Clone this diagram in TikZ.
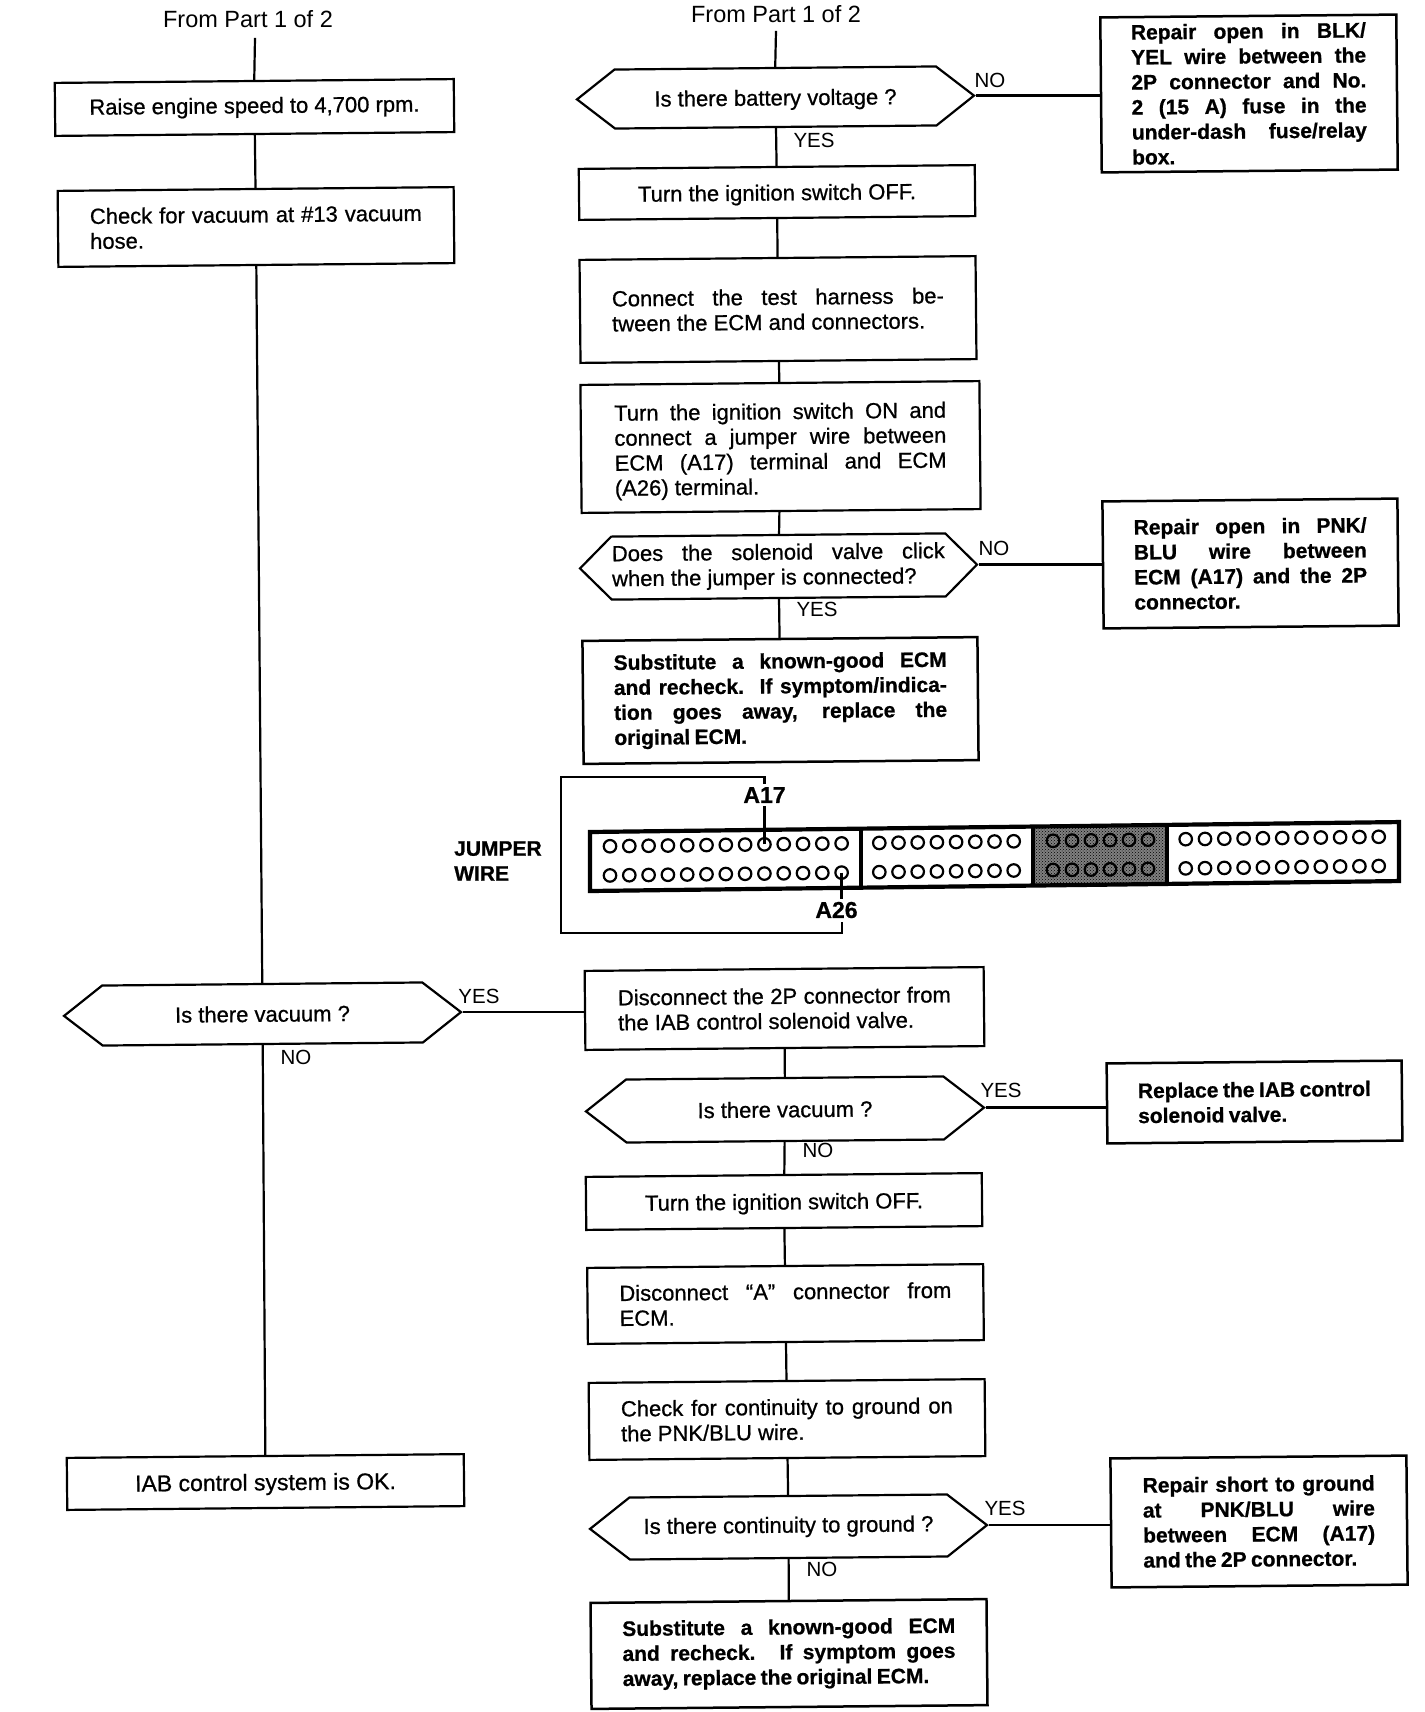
\documentclass[tikz,border=0pt]{standalone}
\usepackage{fontspec}
\setmainfont[FakeBold=0.8, BoldFeatures={WordSpace=0.75}]{Liberation Sans}
\newfontfamily\plainfont{Liberation Sans}
\usetikzlibrary{shapes.geometric, shapes.symbols, patterns}
\tolerance=9999
\hbadness=10000
\hfuzz=6pt
\tikzset{
  bodyfont/.style = {font=\fontsize{22}{25}\selectfont},
  boldfont/.style = {font=\fontsize{21}{25}\selectfont\bfseries},
  stepbox/.style  = {draw, bodyfont, rotate=0.55, line width=2.2pt, inner xsep=0pt, inner ysep=0pt, align=justify},
  cutbox/.style   = {stepbox, boldfont, line width=2.5pt},
  midbox/.style   = {stepbox, align=center},
  decide/.style   = {draw, bodyfont, rotate=0.55, line width=2.2pt, signal, signal to=west and east,
                     signal pointer angle=76, inner sep=0pt, align=center},
  flow/.style     = {line width=2.2pt},
  tag/.style      = {font=\fontsize{20.5}{25}\plainfont, inner sep=0pt},
  fromtag/.style  = {font=\fontsize{23.5}{25}\plainfont, inner sep=0pt},
  pinlab/.style   = {font=\fontsize{23}{25}\selectfont\bfseries, inner sep=3pt},
  hole/.style     = {draw, circle, line width=2.2pt, minimum size=12.5pt, inner sep=0pt},
  wire/.style     = {line width=2.5pt},
  shell/.style    = {line width=4.2pt},
}

\begin{document}
\begin{tikzpicture}[x=1pt, y=-1pt]
  \useasboundingbox (0,0) rectangle (1424,1712);

  % left column
  \node[fromtag]  (fromL) at (248,19) {From Part 1 of 2};
  \node[midbox, minimum width=399pt, minimum height=53pt]  (raise) at (254.5,107.5) {Raise engine speed to 4,700 rpm.};
  \node[stepbox, minimum height=76pt, text width=332pt, inner xsep=32pt] (chk) at (256,227)
      {Check for vacuum at \#13 vacuum\linebreak hose.};
  \node[decide, minimum width=397pt, minimum height=60pt]  (vacL) at (262.5,1014) {Is there vacuum ?};
  \node[midbox, minimum width=397pt, minimum height=52pt, text depth=0pt, font=\fontsize{23}{25}\selectfont]  (okay) at (265.5,1482) {IAB control system is OK.};
  \node[tag] (yesL) at (479,996) {YES};
  \node[tag] (noL)  at (296,1057) {NO};
  \draw[flow] (fromL.south) ++(7,10) -- (raise.north);
  \draw[flow] (raise) -- (chk);
  \draw[flow] (chk) -- (vacL);
  \draw[flow] (vacL) -- (okay);

  % right column, upper part
  \node[fromtag]  (fromR) at (776,14) {From Part 1 of 2};
  \node[decide, minimum width=397pt, minimum height=59pt, text depth=0pt]  (batt) at (775.5,97.5) {Is there battery voltage ?};
  \node[midbox, minimum width=396pt, minimum height=51pt, text depth=0pt]  (off1) at (777,192.5) {Turn the ignition switch OFF.};
  \node[stepbox, minimum height=103pt, text width=332pt, inner xsep=32pt]  (harn) at (778,309.5)
      {Connect the test harness be-\linebreak tween the ECM and connectors.};
  \node[stepbox, minimum height=128pt, text width=332pt, inner xsep=33.5pt]  (jump) at (780.5,447)
      {\rule{0pt}{24pt}Turn the ignition switch ON and\linebreak connect a jumper wire between\linebreak
       ECM (A17) terminal and ECM\linebreak (A26) terminal.};
  \node[decide, minimum width=397pt, minimum height=63pt, align=justify, text width=333pt, signal pointer angle=90]  (click) at (778.5,566.5)
      {Does the solenoid valve click\linebreak when the jumper is connected?};
  \node[cutbox, minimum height=123pt, text width=333pt, inner xsep=31pt]  (sub1) at (780.5,700.5)
      {Substitute a known-good ECM\linebreak and recheck. If symptom/indica-\linebreak
       tion goes away, replace the\linebreak original ECM.};
  \node[cutbox, minimum height=155pt, text width=235pt, inner xsep=30.5pt]  (fuse) at (1249,93.5)
      {Repair open in BLK/\linebreak YEL wire between the\linebreak 2P connector and No.\linebreak
       2 (15 A) fuse in the\linebreak under-dash fuse/relay\linebreak box.};
  \node[cutbox, minimum height=127pt, text width=233pt, inner xsep=31pt]  (pnk) at (1250.5,563.5)
      {Repair open in PNK/\linebreak BLU wire between\linebreak ECM (A17) and the 2P\linebreak connector.};
  \node[tag] (noA)  at (990,80) {NO};
  \node[tag] (yesA) at (814,140) {YES};
  \node[tag] (noB)  at (994,548) {NO};
  \node[tag] (yesB) at (817,609) {YES};
  \draw[flow] (fromR.south) ++(0,8) -- (batt.north);
  \draw[flow] (batt) -- (off1);
  \draw[flow] (off1) -- (harn);
  \draw[flow] (harn) -- (jump);
  \draw[flow] (jump) -- (click);
  \draw[flow] (click) -- (sub1);
  \draw[flow] (batt.east) -- (batt.east -| fuse.west);
  \draw[flow] (click.east) -- (click.east -| pnk.west);

  % connector with the jumper wire
  \begin{scope}[shift={(590,832)}, yslant=0.0123]
    \fill[black!50] (443,0) rectangle (577,59);
    \fill[pattern=crosshatch dots] (443,0) rectangle (577,59);
    \draw[shell] (0,0) rectangle (809,59);
    \draw[shell] (271,0) -- (271,59);
    \draw[shell] (443,0) -- (443,59);
    \draw[shell] (577,0) -- (577,59);
    \foreach \i in {0,...,12} {
      \node[hole] (pa\i) at ({20+19.3*\i},14.5) {};
      \node[hole] (pb\i) at ({20+19.3*\i},43.7) {};
    }
    \foreach \i in {0,...,7} {
      \node[hole] (qa\i) at ({289.3+19.2*\i},14.5) {};
      \node[hole] (qb\i) at ({289.3+19.2*\i},43.7) {};
    }
    \foreach \i in {0,...,5} {
      \node[hole] (ra\i) at ({463+19*\i},14.5) {};
      \node[hole] (rb\i) at ({463+19*\i},43.7) {};
    }
    \foreach \i in {0,...,10} {
      \node[hole] (sa\i) at ({595.7+19.3*\i},14.5) {};
      \node[hole] (sb\i) at ({595.7+19.3*\i},43.7) {};
    }
  \end{scope}
  \node[pinlab] (lab17) at (764.5,795) {A17};
  \node[pinlab] (lab26) at (836.5,910) {A26};
  \node[boldfont, inner sep=0pt, align=left, anchor=west, font=\fontsize{21}{25}\selectfont\bfseries] (jmp) at (454,861) {JUMPER\\WIRE};
  \coordinate (wireA) at (561,777);
  \coordinate (wireB) at (561,933);
  \coordinate (wireC) at (842,922);
  \draw[wire] (pa8.center) -- (pa8.center |- lab17.south);
  \draw[wire] (pa8.center |- lab17.north) |- (wireA) -- (wireB) -| (wireC);
  \draw[wire] (pb12.center) -- (pb12.center |- lab26.north);

  % right column, lower part
  \node[stepbox, minimum height=79pt, text width=333pt, inner xsep=33pt]  (disc) at (784.5,1008.5)
      {Disconnect the 2P connector from\linebreak the IAB control solenoid valve.};
  \node[decide, minimum width=398pt, minimum height=63pt]  (vacR) at (785,1109.5) {Is there vacuum ?};
  \node[midbox, minimum width=396pt, minimum height=53pt, text depth=0pt]  (off2) at (784,1201.5) {Turn the ignition switch OFF.};
  \node[stepbox, minimum height=76pt, text width=332pt, inner xsep=32pt]  (discA) at (785.5,1304)
      {Disconnect ``A'' connector from\linebreak ECM.};
  \node[stepbox, minimum height=77pt, text width=332pt, inner xsep=32pt]  (cont) at (787,1419.5)
      {Check for continuity to ground on\linebreak the PNK/BLU wire.};
  \node[decide, minimum width=397pt, minimum height=62pt]  (gnd) at (788.5,1527) {Is there continuity to ground ?};
  \node[cutbox, minimum height=106pt, text width=333pt, inner xsep=31.5pt]  (sub2) at (789,1654)
      {Substitute a known-good ECM\linebreak and recheck. If symptom goes\linebreak away, replace the original ECM.};
  \node[cutbox, minimum height=80pt, text width=233pt, inner xsep=31pt]  (iab) at (1254.5,1102)
      {Replace the IAB control\linebreak solenoid valve.};
  \node[cutbox, minimum height=129pt, text width=232pt, inner xsep=32pt]  (shrt) at (1259,1521.5)
      {Repair short to ground\linebreak at PNK/BLU wire\linebreak between ECM (A17)\linebreak and the 2P connector.};
  \node[tag] (yesC) at (1001,1090) {YES};
  \node[tag] (noC)  at (818,1150) {NO};
  \node[tag] (yesD) at (1005,1508) {YES};
  \node[tag] (noD)  at (822,1569) {NO};
  \draw[flow] (vacL.east) -- (vacL.east -| disc.west);
  \draw[flow] (disc) -- (vacR);
  \draw[flow] (vacR) -- (off2);
  \draw[flow] (off2) -- (discA);
  \draw[flow] (discA) -- (cont);
  \draw[flow] (cont) -- (gnd);
  \draw[flow] (gnd) -- (sub2);
  \draw[flow] (vacR.east) -- (vacR.east -| iab.west);
  \draw[flow] (gnd.east) -- (gnd.east -| shrt.west);
\end{tikzpicture}
\end{document}
